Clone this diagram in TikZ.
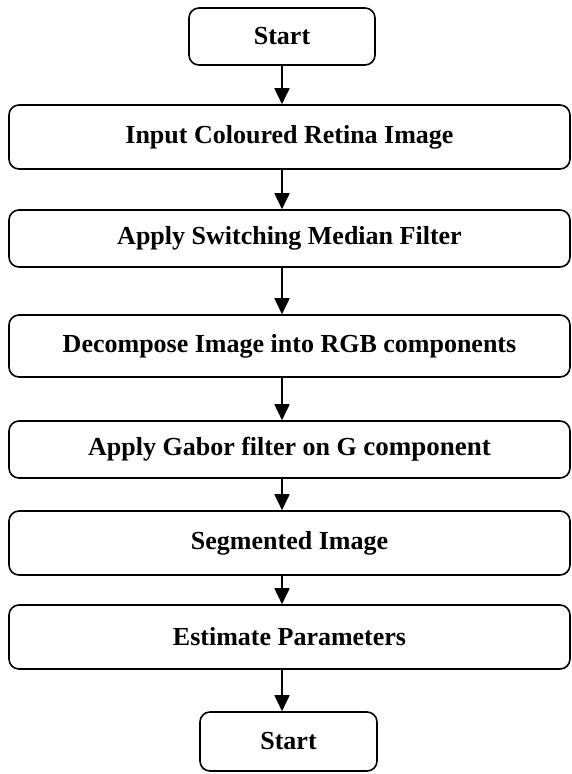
\documentclass[tikz,border=0pt]{standalone}
\usepackage{fontspec}
\setmainfont{Liberation Serif}
\usetikzlibrary{arrows.meta}
\begin{document}
\begin{tikzpicture}[x=1pt,y=-1pt,
  box/.style={draw, line width=1.6pt, rounded corners=10pt, inner sep=0pt,
    font=\fontsize{26}{30}\selectfont\bfseries, minimum width=561pt},
  arr/.style={-{Triangle[length=16pt,width=15pt]}, line width=1.8pt}]
\useasboundingbox (0,0) rectangle (572,774);
\node[box, minimum width=186pt, minimum height=57pt] (s) at (282,36.5) {Start};
\node[box, minimum height=64pt] (b1) at (289.5,137) {Input Coloured Retina Image};
\node[box, minimum height=57pt] (b2) at (289.5,238.5) {Apply Switching Median Filter};
\node[box, minimum height=62pt] (b3) at (289.5,346) {Decompose Image into RGB components};
\node[box, minimum height=57pt] (b4) at (289.5,449.5) {Apply Gabor filter on G {\fontsize{27}{30}\selectfont component}};
\node[box, minimum height=64pt] (b5) at (289.5,543) {Segmented Image};
\node[box, minimum height=64pt] (b6) at (289.5,637) {Estimate Parameters};
\node[box, minimum width=177pt, minimum height=59pt] (e) at (288.5,741.5) {Start};
\draw[arr] (s.south) -- (b1.north -| s.south);
\draw[arr] (b1.south -| s.south) -- (b2.north -| s.south);
\draw[arr] (b2.south -| s.south) -- (b3.north -| s.south);
\draw[arr] (b3.south -| s.south) -- (b4.north -| s.south);
\draw[arr] (b4.south -| s.south) -- (b5.north -| s.south);
\draw[arr] (b5.south -| s.south) -- (b6.north -| s.south);
\draw[arr] (b6.south -| s.south) -- (e.north -| s.south);
\end{tikzpicture}
\end{document}
